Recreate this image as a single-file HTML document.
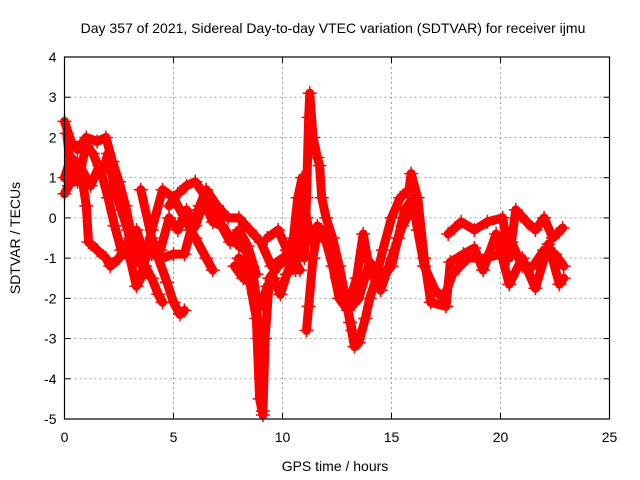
<!DOCTYPE html>
<html><head><meta charset="utf-8"><style>
body{margin:0;background:#fff;}
svg{display:block;font-family:"Liberation Sans",sans-serif;}
</style></head><body>
<svg id="chart" width="640" height="480" viewBox="0 0 640 480">
<rect width="640" height="480" fill="#fff"/>
<text x="333" y="33" font-size="14" text-anchor="middle">Day 357 of 2021, Sidereal Day-to-day VTEC variation (SDTVAR) for receiver ijmu</text>
<text x="335" y="471" font-size="14" text-anchor="middle">GPS time / hours</text>
<text transform="translate(20,238) rotate(-90)" font-size="14" text-anchor="middle">SDTVAR / TECUs</text>
<g id="grid"></g>
<g id="ticks"></g>
<g id="marks"></g>
<rect x="64.5" y="57" width="545" height="362" fill="none" stroke="#000" stroke-width="1.2"/>
</svg>
<script>
const xTicks=[0,5,10,15,20,25];
const yTicks=[-5,-4,-3,-2,-1,0,1,2,3,4];
const track1=[[0,2.4],[0.3,1.9],[0.6,1.7],[1,2.0],[1.5,1.9],[1.9,2.0],[2.2,1.4],[2.5,0.9],[2.8,0.3],[3.1,-0.5],[3.4,-0.8],[3.7,-1.2],[4.0,-1.5],[4.3,-1.9],[4.5,-2.1]];
const track2=[[0,0.6],[0.2,0.8],[0.5,1.2],[0.8,1.0],[1.0,0.3],[1.1,-0.6],[1.5,-0.8],[1.9,-1.0],[2.1,-1.2],[2.5,-1.0],[3,-0.5],[3.3,-0.3],[3.6,-0.8],[4,-0.9],[4.5,-1],[5,-0.9],[5.5,-0.9],[5.8,-0.3],[6.2,0.3],[6.5,0.7],[7,0.3],[7.5,0],[8,0],[8.5,-0.3],[9,-0.6],[9.5,-1.2],[10,-1.0]];
const track3=[[0,1.0],[0.3,1.5],[0.7,1.3],[1.2,0.8],[1.6,1.3],[2.0,0.5],[2.3,-0.2],[2.6,-0.8],[3.0,-1.0],[3.3,-1.7],[3.5,-1.5],[4,-0.3],[4.5,0.7],[5,0.5],[5.5,0],[6,-0.5],[6.5,-1],[6.8,-1.3]];
const track4=[[3.5,0.7],[4,-0.5],[4.3,-1],[4.7,-1.6],[5.0,-2.1],[5.3,-2.4],[5.5,-2.3]];
const track5=[[4.8,0.3],[5.2,0.6],[5.6,0.8],[6,0.9],[6.5,0.5],[7,0],[7.5,-0.4],[8,-0.7],[8.3,-0.8],[8.6,-1.2],[8.8,-2],[8.9,-3],[9.0,-4],[9.1,-4.8]];
const track6=[[7.8,-1.2],[8.2,-1.5],[8.5,-1.6],[8.8,-2.5],[8.95,-4.5],[9.1,-4.9],[9.2,-3],[9.4,-1.5],[9.8,-1.2],[10.2,-1],[10.5,-0.5],[10.7,0.5],[10.9,1.0],[11.1,0],[11.3,-0.6],[11.6,-0.2],[12,-0.6],[12.3,-1.2],[12.6,-2],[13,-2.3],[13.5,-2.0],[14,-1.1],[14.5,-1.5],[15,-1.2],[15.3,-0.5],[15.6,0.2],[16,0.5]];
const track7=[[11.0,-1],[11.1,0.5],[11.2,2.5],[11.25,3.1],[11.4,2],[11.6,1.5],[11.7,1.3],[11.8,0.5],[12,0],[12.3,-0.5],[12.6,-1.2],[12.9,-2],[13.1,-2.6],[13.3,-3.2],[13.5,-3.1],[13.8,-2.5],[14,-2],[14.3,-1.5],[14.6,-0.8],[15,0],[15.4,0.5],[15.8,0.7],[15.9,1.1],[16.2,0.5],[16.5,-1.0],[16.8,-2.1],[17.5,-2.2],[17.7,-1.1],[18.3,-0.9],[18.8,-0.75],[19.2,-1.3],[19.8,-0.4],[20.4,-1.65],[21,-1.0],[21.6,-1.75],[22.2,-0.65],[22.7,-1.65],[22.9,-1.5]];
const track8=[[11.1,-2.8],[11.2,-2.2],[11.4,-1.0],[11.6,-0.3],[12,-0.5],[12.5,-1.5],[13.0,-2.2],[13.4,-1.5],[13.7,-0.4],[14,-1.3],[14.5,-1.8],[15,-1.0],[15.5,-0.2],[16,0.3],[16.2,-0.3],[16.5,-1.2],[17,-1.8],[17.4,-2.0],[17.8,-1.4],[18.5,-1.0],[19.3,-1.0],[20,-0.9],[20.5,-0.6],[21.0,-1.2],[21.5,-1.2],[22,-0.8],[22.5,-0.9],[22.9,-1.2]];
const track9=[[17.6,-0.4],[18.2,-0.1],[18.8,-0.3],[19.4,-0.1],[20.1,0],[20.4,-1.0],[20.7,0.2],[21.2,-0.1],[21.6,-0.3],[22.0,0],[22.4,-0.5],[22.85,-0.25]];
const track10=[[9.3,-0.5],[9.8,-0.3],[10.2,-0.8],[10.6,-1.3],[10.9,0.5],[11.3,-0.5],[11.8,-0.3],[12.3,-0.8],[12.8,-1.8],[13.2,-2.8]];
const track11=[[8.0,-1.0],[8.4,-1.3],[8.7,-1.9],[9.0,-2.2],[9.3,-1.7],[9.6,-1.5],[9.9,-1.9],[10.2,-1.4],[10.5,-1.0],[10.8,-1.3]];
const track12=[[3.2,-1.0],[3.6,-1.2],[4.0,-0.6],[4.4,-0.8],[4.8,0.0],[5.2,-0.3],[5.6,0.2],[6.0,-0.2],[6.4,0.4],[6.8,-0.1],[7.2,-0.2],[7.6,-0.6],[8.0,-0.3],[8.4,-0.7],[8.8,-1.4]];
const track13=[[0.1,2.1],[0.3,1.2],[0.6,0.9],[1.0,1.8],[1.3,1.6],[1.7,1.1],[2.0,1.6],[2.3,0.7],[2.6,0.2],[2.9,-0.3],[3.2,-1.1]];
const tracks=[track1,track2,track3,track4,track5,track6,track7,track8,track9,track10,track11,track12,track13];
const L=64.5,R=609.5,T=57,B=419;
function sx(t){return L+(t-0)/25*(R-L);}
function sy(v){return B-(v+5)/9*(B-T);}
const NS="http://www.w3.org/2000/svg";
const grid=document.getElementById('grid'),ticks=document.getElementById('ticks'),marks=document.getElementById('marks');
function mk(tag,attrs,parent){const e=document.createElementNS(NS,tag);for(const k in attrs)e.setAttribute(k,attrs[k]);parent.appendChild(e);return e;}
xTicks.forEach(t=>{const x=sx(t);
 if(t>0&&t<25){const g=mk('line',{x1:x,x2:x,y1:T,y2:B,stroke:'#a0a0a0','stroke-dasharray':'2,3'},grid);
 
 }
 mk('line',{x1:x,x2:x,y1:B,y2:B-6,stroke:'#000'},ticks);mk('line',{x1:x,x2:x,y1:T,y2:T+6,stroke:'#000'},ticks);
 const tx=mk('text',{x:x,y:B+23,'font-size':14,'text-anchor':'middle'},ticks);tx.textContent=t;
 
 });
yTicks.forEach(v=>{const y=sy(v);
 if(v>-5&&v<4){const g=mk('line',{x1:L,x2:R,y1:y,y2:y,stroke:'#a0a0a0','stroke-dasharray':'2,3'},grid);
 
 }
 mk('line',{x1:L,x2:L+6,y1:y,y2:y,stroke:'#000'},ticks);mk('line',{x1:R,x2:R-6,y1:y,y2:y,stroke:'#000'},ticks);
 const tx=mk('text',{x:L-8,y:y+5,'font-size':14,'text-anchor':'end'},ticks);tx.textContent=v;
 
 });
tracks.forEach((tr,i)=>{
 const pts=tr.map(p=>sx(p[0])+','+sy(p[1])).join(' ');
 const pl=mk('polyline',{points:pts,fill:'none',stroke:'#f00','stroke-width':9,'stroke-linejoin':'round','stroke-linecap':'round'},marks);
 
 
 tr.forEach(p=>{const x=sx(p[0]),y=sy(p[1]);
  const m=mk('path',{d:`M${x-7},${y}h14M${x},${y-7}v14`,stroke:'#f00','stroke-width':1.5},marks);
  
  });
});
</script>
</body></html>
